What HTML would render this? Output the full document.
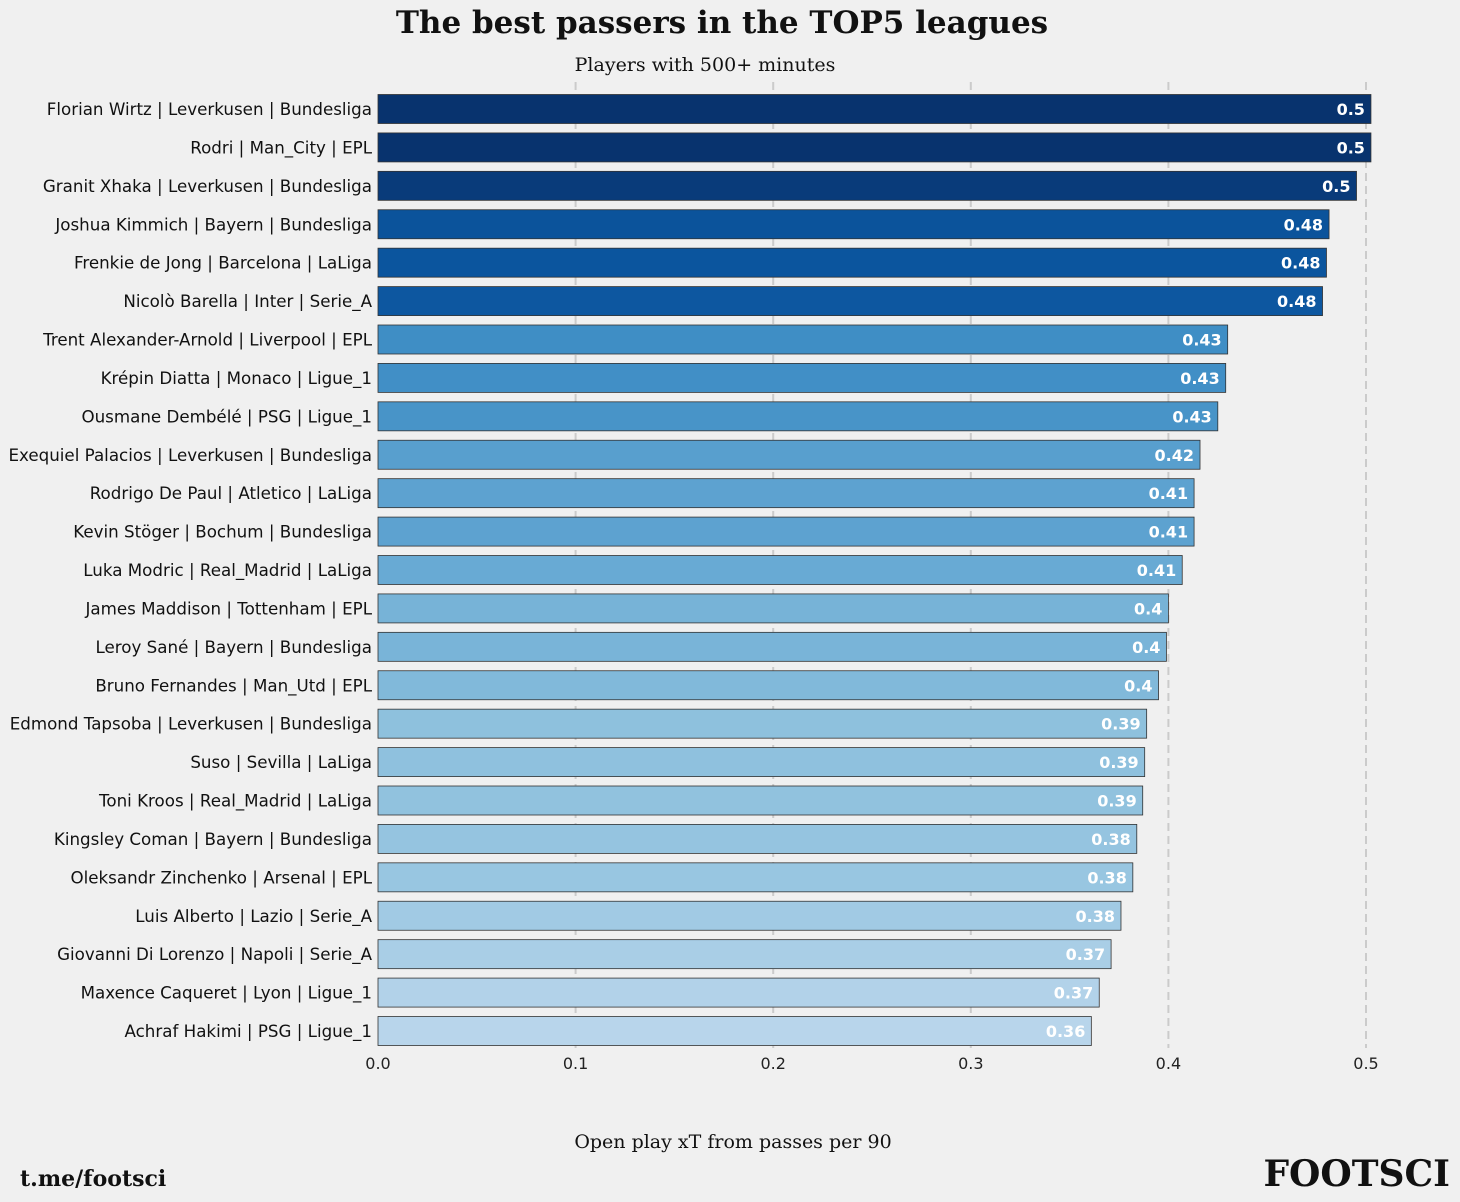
<!DOCTYPE html>
<html><head><meta charset="utf-8"><style>
html,body{margin:0;padding:0;background:#f0f0f0;}
svg{display:block;}
</style></head><body>
<svg id="chart" width="1460" height="1202" xmlns="http://www.w3.org/2000/svg">
<rect width="1460" height="1202" fill="#f0f0f0"/>
<text x="722" y="33" text-anchor="middle" font-family="DejaVu Serif, Liberation Serif, serif" font-weight="bold" font-size="31" fill="#111">The best passers in the TOP5 leagues</text>
<text x="705" y="71" text-anchor="middle" font-family="DejaVu Serif, Liberation Serif, serif" font-size="19" fill="#111">Players with 500+ minutes</text>
<g id="grid"></g><g id="bars"></g><g id="xticks"></g>
<text x="733" y="1148" text-anchor="middle" font-family="DejaVu Serif, Liberation Serif, serif" font-size="19" fill="#111">Open play xT from passes per 90</text>
<text x="20" y="1186" font-family="DejaVu Serif, Liberation Serif, serif" font-weight="bold" font-size="22" fill="#111">t.me/footsci</text>
<text x="1450" y="1186" text-anchor="end" font-family="DejaVu Serif, Liberation Serif, serif" font-weight="bold" font-size="36" fill="#111">FOOTSCI</text>
</svg>
<script>
const players = ["Florian Wirtz | Leverkusen | Bundesliga","Rodri | Man_City | EPL","Granit Xhaka | Leverkusen | Bundesliga","Joshua Kimmich | Bayern | Bundesliga","Frenkie de Jong | Barcelona | LaLiga","Nicolò Barella | Inter | Serie_A","Trent Alexander-Arnold | Liverpool | EPL","Krépin Diatta | Monaco | Ligue_1","Ousmane Dembélé | PSG | Ligue_1","Exequiel Palacios | Leverkusen | Bundesliga","Rodrigo De Paul | Atletico | LaLiga","Kevin Stöger | Bochum | Bundesliga","Luka Modric | Real_Madrid | LaLiga","James Maddison | Tottenham | EPL","Leroy Sané | Bayern | Bundesliga","Bruno Fernandes | Man_Utd | EPL","Edmond Tapsoba | Leverkusen | Bundesliga","Suso | Sevilla | LaLiga","Toni Kroos | Real_Madrid | LaLiga","Kingsley Coman | Bayern | Bundesliga","Oleksandr Zinchenko | Arsenal | EPL","Luis Alberto | Lazio | Serie_A","Giovanni Di Lorenzo | Napoli | Serie_A","Maxence Caqueret | Lyon | Ligue_1","Achraf Hakimi | PSG | Ligue_1"];
const xtValues = [0.5025,0.5025,0.4952,0.4813,0.480,0.478,0.430,0.429,0.425,0.416,0.413,0.413,0.407,0.400,0.399,0.395,0.389,0.388,0.387,0.384,0.382,0.376,0.371,0.365,0.361];
const tickValues = [0,0.1,0.2,0.3,0.4,0.5];
const tickLabels = ["0.0","0.1","0.2","0.3","0.4","0.5"];

const NS="http://www.w3.org/2000/svg";
const x0=378, pxPerUnit=1976, y0=109, rowStep=(1031-109)/24, barH=29;
const xScale=v=>x0+v*pxPerUnit;
const yScale=i=>y0+i*rowStep;
const stops=[[0.36,[186,214,235]],[0.39,[140,192,221]],[0.41,[98,166,210]],[0.43,[63,142,197]],[0.48,[11,85,158]],[0.50,[8,51,110]]];
function color(v){
  if(v<=stops[0][0]) return 'rgb('+stops[0][1]+')';
  for(let k=1;k<stops.length;k++){ if(v<=stops[k][0]){const a=stops[k-1],b=stops[k],t=(v-a[0])/(b[0]-a[0]);return 'rgb('+a[1].map((c,j)=>Math.round(c+(b[1][j]-c)*t)).join(',')+')';}}
  return 'rgb('+stops[stops.length-1][1]+')';
}
function mk(tag,attrs,parent){const e=document.createElementNS(NS,tag);for(const k in attrs)e.setAttribute(k,attrs[k]);parent.appendChild(e);return e;}
const grid=document.getElementById('grid'), bars=document.getElementById('bars'), xt=document.getElementById('xticks');
tickValues.forEach((v,i)=>{
  if(v>0){const l=mk('line',{x1:xScale(v),x2:xScale(v),y1:82,y2:1048,stroke:'#cbcbcb','stroke-width':2,'stroke-dasharray':'8,5'},grid);
  
  }
  const t=mk('text',{x:xScale(v),y:1069,'text-anchor':'middle','font-family':'DejaVu Sans, Liberation Sans, sans-serif','font-size':16,fill:'#222'},xt);
  t.textContent=tickLabels[i];
  
  
});
players.forEach((p,i)=>{
  const v=xtValues[i], yc=yScale(i);
  const r=mk('rect',{x:x0,y:yc-barH/2,width:xScale(v)-x0,height:barH,fill:color(v),stroke:'#333','stroke-width':0.8},bars);
  
  
  const lab=mk('text',{x:372,y:yc+6,'text-anchor':'end','font-family':'DejaVu Sans, Liberation Sans, sans-serif','font-size':16.7,fill:'#111'},bars);
  lab.textContent=p;
  
  
  const vl=mk('text',{x:xScale(v)-6,y:yc+6,'text-anchor':'end','font-family':'DejaVu Sans, Liberation Sans, sans-serif','font-size':16,'font-weight':'bold',fill:'#fff'},bars);
  vl.textContent=String(Math.round(v*100+1e-9)/100);
  
  
});
</script>
</body></html>
